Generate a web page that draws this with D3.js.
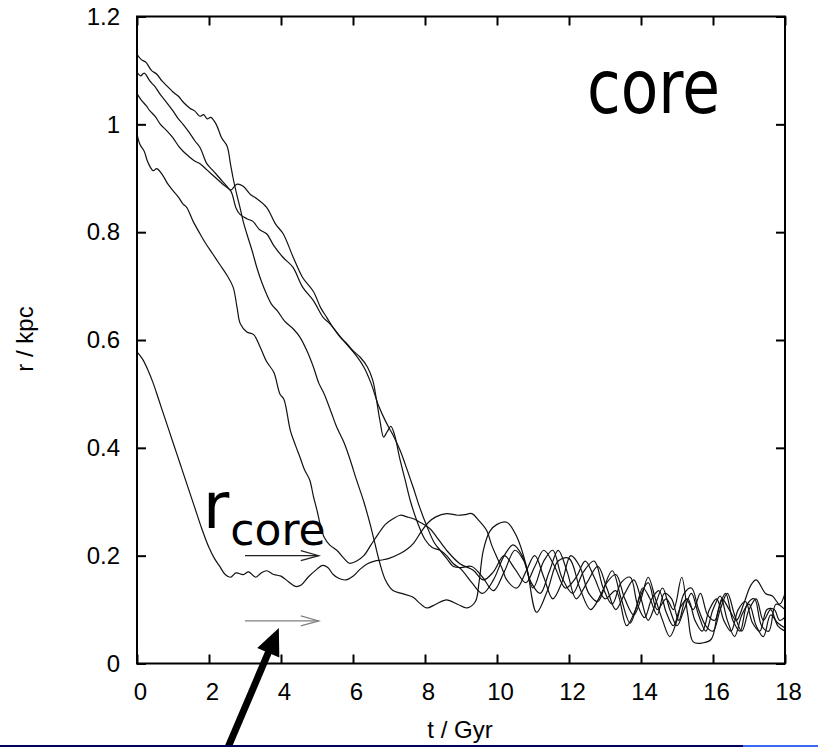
<!DOCTYPE html>
<html>
<head>
<meta charset="utf-8">
<script src="https://cdn.jsdelivr.net/npm/d3@7"></script>
<style>
  html, body { margin: 0; padding: 0; background: #fff; }
  svg { display: block; }
</style>
</head>
<body>
<svg id="chart" width="818" height="747"></svg>
<script>
// Orbital radius of five sinking clusters in a cored halo, r(t) in kpc.
const xTicks = [0, 2, 4, 6, 8, 10, 12, 14, 16, 18];
const yTicks = [0, 0.2, 0.4, 0.6, 0.8, 1, 1.2];
const yTickLabels = ["0", "0.2", "0.4", "0.6", "0.8", "1", "1.2"];

const runA = [[0,1.13],[0.12,1.12],[0.25,1.115],[0.4,1.1],[0.55,1.093],[0.7,1.08],[0.85,1.07],[1.0,1.06],[1.15,1.052],[1.3,1.04],[1.47,1.03],[1.6,1.025],[1.75,1.015],[1.85,1.018],[1.95,1.01],[2.05,1.013],[2.2,1.0],[2.35,0.975],[2.5,0.96],[2.6,0.925],[2.67,0.9],[2.77,0.87],[2.86,0.846],[2.95,0.82],[3.05,0.797],[3.2,0.765],[3.33,0.734],[3.45,0.71],[3.6,0.685],[3.75,0.665],[3.9,0.654],[4.1,0.635],[4.35,0.62],[4.53,0.605],[4.72,0.58],[4.9,0.55],[5.05,0.52],[5.2,0.5],[5.4,0.465],[5.55,0.438],[5.75,0.41],[5.9,0.382],[6.1,0.34],[6.3,0.3],[6.47,0.26],[6.6,0.225],[6.75,0.185],[6.9,0.155],[7.1,0.136],[7.35,0.13],[7.67,0.123],[7.85,0.112],[8.05,0.103],[8.3,0.11],[8.6,0.118],[8.9,0.11],[9.17,0.103],[9.4,0.115],[9.5,0.15],[9.62,0.21],[9.8,0.245],[10.0,0.258],[10.27,0.262],[10.55,0.235],[10.82,0.18],[11.1,0.095],[11.4,0.135],[11.7,0.19],[12.0,0.195],[12.3,0.14],[12.6,0.1],[12.9,0.13],[13.2,0.172],[13.45,0.12],[13.7,0.075],[13.95,0.12],[14.2,0.15],[14.45,0.1],[14.7,0.12],[14.9,0.1],[15.13,0.16],[15.3,0.09],[15.45,0.04],[15.7,0.038],[15.95,0.045],[16.15,0.1],[16.35,0.13],[16.55,0.08],[16.75,0.06],[16.95,0.11],[17.15,0.12],[17.35,0.07],[17.55,0.06],[17.75,0.11],[18.0,0.1]];

const runB = [[0,1.097],[0.1,1.09],[0.2,1.095],[0.36,1.08],[0.5,1.07],[0.65,1.055],[0.83,1.04],[1.0,1.025],[1.15,1.01],[1.28,1.0],[1.45,0.985],[1.6,0.97],[1.75,0.957],[1.94,0.927],[2.1,0.915],[2.3,0.9],[2.5,0.885],[2.6,0.878],[2.78,0.889],[2.95,0.885],[3.15,0.87],[3.33,0.862],[3.6,0.846],[3.85,0.815],[4.06,0.797],[4.33,0.755],[4.6,0.716],[4.9,0.69],[5.1,0.66],[5.27,0.642],[5.45,0.623],[5.65,0.605],[5.83,0.593],[6.0,0.58],[6.2,0.568],[6.4,0.55],[6.55,0.525],[6.65,0.49],[6.75,0.45],[6.85,0.42],[6.95,0.43],[7.05,0.44],[7.15,0.425],[7.3,0.38],[7.45,0.34],[7.6,0.3],[7.8,0.26],[8.0,0.23],[8.2,0.215],[8.42,0.21],[8.6,0.2],[8.79,0.185],[9.0,0.175],[9.3,0.15],[9.6,0.13],[9.9,0.155],[10.2,0.2],[10.45,0.22],[10.7,0.2],[10.95,0.15],[11.2,0.13],[11.45,0.17],[11.7,0.21],[11.95,0.17],[12.2,0.12],[12.5,0.15],[12.8,0.18],[13.05,0.14],[13.3,0.1],[13.55,0.13],[13.8,0.155],[14.0,0.12],[14.2,0.08],[14.4,0.11],[14.6,0.14],[14.8,0.1],[15.0,0.07],[15.2,0.1],[15.4,0.13],[15.6,0.09],[15.8,0.06],[16.0,0.1],[16.2,0.125],[16.4,0.08],[16.6,0.05],[16.8,0.09],[17.0,0.11],[17.2,0.07],[17.4,0.05],[17.6,0.09],[17.8,0.075],[18,0.066]];

const runC = [[0,1.057],[0.12,1.045],[0.25,1.035],[0.36,1.025],[0.5,1.015],[0.65,1.0],[0.83,0.988],[1.0,0.975],[1.15,0.96],[1.28,0.95],[1.45,0.94],[1.6,0.932],[1.75,0.927],[1.95,0.915],[2.2,0.9],[2.4,0.888],[2.6,0.877],[2.75,0.845],[2.86,0.833],[3.05,0.825],[3.22,0.82],[3.4,0.805],[3.6,0.797],[3.8,0.775],[4.06,0.753],[4.33,0.735],[4.6,0.698],[4.9,0.673],[5.17,0.642],[5.36,0.63],[5.6,0.61],[5.85,0.59],[6.1,0.57],[6.3,0.55],[6.5,0.52],[6.7,0.48],[6.9,0.45],[7.1,0.425],[7.31,0.395],[7.5,0.36],[7.68,0.325],[7.85,0.29],[8.05,0.255],[8.25,0.225],[8.42,0.21],[8.6,0.195],[8.79,0.18],[9.0,0.178],[9.3,0.18],[9.6,0.16],[9.9,0.135],[10.2,0.17],[10.5,0.21],[10.75,0.19],[11.0,0.14],[11.3,0.19],[11.55,0.21],[11.8,0.16],[12.1,0.13],[12.4,0.17],[12.7,0.19],[12.95,0.14],[13.2,0.11],[13.45,0.15],[13.7,0.16],[13.9,0.11],[14.1,0.085],[14.3,0.12],[14.5,0.135],[14.7,0.095],[14.9,0.07],[15.1,0.105],[15.3,0.12],[15.5,0.08],[15.7,0.06],[15.9,0.1],[16.1,0.12],[16.3,0.08],[16.5,0.06],[16.7,0.1],[16.9,0.115],[17.1,0.075],[17.3,0.06],[17.5,0.1],[17.7,0.1],[17.85,0.08],[18,0.086]];

const runD = [[0,0.982],[0.08,0.963],[0.2,0.95],[0.3,0.93],[0.45,0.914],[0.55,0.918],[0.72,0.905],[0.85,0.89],[1.0,0.877],[1.15,0.865],[1.28,0.852],[1.38,0.846],[1.56,0.82],[1.75,0.797],[1.9,0.78],[2.1,0.76],[2.3,0.74],[2.5,0.72],[2.67,0.698],[2.78,0.66],[2.87,0.63],[3.05,0.615],[3.24,0.61],[3.42,0.587],[3.6,0.56],[3.8,0.54],[3.97,0.5],[4.08,0.49],[4.26,0.432],[4.4,0.405],[4.53,0.382],[4.65,0.36],[4.8,0.34],[4.9,0.31],[5.0,0.284],[5.1,0.255],[5.2,0.234],[5.35,0.22],[5.55,0.21],[5.75,0.195],[5.9,0.186],[6.1,0.19],[6.3,0.2],[6.5,0.22],[6.7,0.24],[6.9,0.258],[7.1,0.268],[7.31,0.275],[7.5,0.272],[7.7,0.268],[7.86,0.262],[8.14,0.25],[8.32,0.235],[8.6,0.21],[8.97,0.185],[9.34,0.173],[9.62,0.155],[9.9,0.17],[10.2,0.2],[10.5,0.175],[10.8,0.15],[11.05,0.18],[11.3,0.21],[11.6,0.18],[11.9,0.14],[12.2,0.16],[12.45,0.19],[12.7,0.16],[13.0,0.12],[13.3,0.135],[13.6,0.07],[13.85,0.1],[14.05,0.14],[14.25,0.12],[14.45,0.09],[14.65,0.13],[14.85,0.12],[15.05,0.08],[15.25,0.12],[15.45,0.1],[15.65,0.13],[15.85,0.09],[16.05,0.08],[16.25,0.12],[16.45,0.1],[16.65,0.08],[16.85,0.11],[17.05,0.145],[17.2,0.155],[17.46,0.13],[17.65,0.125],[17.85,0.11],[18,0.13]];

const runE = [[0,0.578],[0.15,0.565],[0.3,0.545],[0.45,0.52],[0.6,0.49],[0.8,0.45],[1.0,0.41],[1.2,0.37],[1.4,0.33],[1.6,0.29],[1.8,0.25],[2.0,0.215],[2.15,0.195],[2.3,0.18],[2.45,0.165],[2.6,0.16],[2.75,0.168],[2.95,0.165],[3.1,0.17],[3.3,0.16],[3.45,0.168],[3.6,0.172],[3.8,0.165],[4.0,0.162],[4.2,0.152],[4.4,0.143],[4.55,0.145],[4.75,0.16],[5.0,0.175],[5.15,0.182],[5.3,0.178],[5.45,0.165],[5.6,0.158],[5.8,0.155],[6.0,0.162],[6.2,0.175],[6.4,0.185],[6.6,0.19],[6.8,0.192],[7.0,0.195],[7.31,0.204],[7.5,0.212],[7.68,0.223],[7.9,0.245],[8.1,0.262],[8.3,0.272],[8.6,0.278],[8.9,0.275],[9.1,0.276],[9.3,0.278],[9.5,0.265],[9.71,0.247],[9.85,0.22],[9.99,0.198],[10.15,0.175],[10.27,0.155],[10.55,0.14],[10.8,0.17],[11.05,0.2],[11.3,0.16],[11.55,0.12],[11.8,0.15],[12.05,0.2],[12.3,0.18],[12.55,0.13],[12.8,0.115],[13.05,0.15],[13.3,0.165],[13.55,0.12],[13.8,0.09],[14.0,0.12],[14.2,0.16],[14.4,0.12],[14.6,0.08],[14.8,0.05],[15.0,0.08],[15.2,0.13],[15.4,0.14],[15.6,0.1],[15.8,0.07],[16.0,0.06],[16.2,0.1],[16.4,0.13],[16.6,0.09],[16.8,0.06],[17.0,0.1],[17.2,0.12],[17.4,0.08],[17.6,0.1],[17.8,0.07],[18,0.06]];

const runs = [runA, runB, runC, runD, runE];

// core radius markers (t range, r level)
const coreArrows = [
  { t0: 3, t1: 5.05, r: 0.2, color: "#222" },
  { t0: 3, t1: 5.05, r: 0.079, color: "#808080" }
];

const svg = d3.select("#chart");
const W = 818, H = 747;
const plot = { left: 137, right: 785, top: 16.5, bottom: 663.5 };

const x = d3.scaleLinear().domain([0, 18]).range([plot.left, plot.right]);
const y = d3.scaleLinear().domain([0, 1.2]).range([plot.bottom, plot.top]);

svg.append("rect").attr("width", W).attr("height", H).attr("fill", "#fff");

// curves
const line = d3.line()
  .x(d => x(d[0]))
  .y(d => y(d[1]))
  .curve(d3.curveCatmullRom.alpha(0.5));

svg.append("g").selectAll("path")
  .data(runs)
  .join("path")
  .attr("d", line)
  .attr("fill", "none")
  .attr("stroke", "#111")
  .attr("stroke-width", 1.2)
  .attr("stroke-linejoin", "round");

// axes with inward ticks on all four sides
const tickLen = 9;
const fontTicks = "Liberation Sans, Arial, sans-serif";

const gBottom = svg.append("g")
  .attr("transform", `translate(0,${plot.bottom})`)
  .call(d3.axisBottom(x).tickValues(xTicks).tickSize(-tickLen).tickPadding(19).tickFormat(d3.format("d")));
gBottom.selectAll("text").attr("dx", 3);

const gLeft = svg.append("g")
  .attr("transform", `translate(${plot.left},0)`)
  .call(d3.axisLeft(y).tickValues(yTicks).tickSize(-tickLen).tickPadding(17)
    .tickFormat((d, i) => yTickLabels[i]));

const gTop = svg.append("g")
  .attr("transform", `translate(0,${plot.top})`)
  .call(d3.axisTop(x).tickValues(xTicks).tickSize(-tickLen).tickFormat(""));

const gRight = svg.append("g")
  .attr("transform", `translate(${plot.right},0)`)
  .call(d3.axisRight(y).tickValues(yTicks).tickSize(-tickLen).tickFormat(""));

[gBottom, gLeft, gTop, gRight].forEach(g => {
  g.select(".domain").remove();
  g.selectAll(".tick line").attr("stroke", "#000").attr("stroke-width", 2);
  g.selectAll("text")
    .attr("fill", "#000")
    .style("font-family", fontTicks)
    .style("font-size", "24px");
});

svg.append("rect")
  .attr("x", plot.left).attr("y", plot.top)
  .attr("width", plot.right - plot.left).attr("height", plot.bottom - plot.top)
  .attr("fill", "none").attr("stroke", "#000").attr("stroke-width", 2);

// axis titles
svg.append("text")
  .attr("x", 460).attr("y", 738)
  .attr("text-anchor", "middle")
  .style("font-family", fontTicks).style("font-size", "24px")
  .text("t / Gyr");

svg.append("text")
  .attr("transform", "translate(33,339) rotate(-90)")
  .attr("text-anchor", "middle")
  .style("font-family", fontTicks).style("font-size", "24px")
  .text("r / kpc");

// annotations
svg.append("text")
  .attr("x", 587).attr("y", 113)
  .attr("textLength", 133).attr("lengthAdjust", "spacingAndGlyphs")
  .style("font-family", "DejaVu Sans, sans-serif").style("font-size", "74px")
  .text("core");

const rLabel = svg.append("text")
  .attr("x", 203).attr("y", 528)
  .style("font-family", "DejaVu Sans, sans-serif");
rLabel.append("tspan").style("font-size", "64px").text("r");
rLabel.append("tspan").attr("dy", 17).attr("dx", 1).style("font-size", "44px").text("core");

coreArrows.forEach(a => {
  const x0 = x(a.t0), x1 = x(a.t1), yy = y(a.r);
  svg.append("line").attr("x1", x0).attr("x2", x1).attr("y1", yy).attr("y2", yy)
    .attr("stroke", a.color).attr("stroke-width", 1.2);
  svg.append("path")
    .attr("d", `M${x1 - 18},${yy - 5}L${x1},${yy}L${x1 - 18},${yy + 5}`)
    .attr("fill", "none").attr("stroke", a.color).attr("stroke-width", 1.2);
});

// pointer arrow toward the lower core marker
const tail = [x(2.5), y(-0.16)];
const tip = [x(3.94), y(0.066)];
const dx = tip[0] - tail[0], dy = tip[1] - tail[1];
const len = Math.hypot(dx, dy);
const ux = dx / len, uy = dy / len, px = -uy, py = ux;
const headLen = 27, headHalf = 12;
const base = [tip[0] - ux * headLen, tip[1] - uy * headLen];
svg.append("line")
  .attr("x1", tail[0] - ux * 10).attr("y1", tail[1] - uy * 10)
  .attr("x2", base[0] + ux * 2).attr("y2", base[1] + uy * 2)
  .attr("stroke", "#000").attr("stroke-width", 7);
svg.append("path")
  .attr("d", `M${tip[0]},${tip[1]}L${base[0] + px * headHalf},${base[1] + py * headHalf}L${base[0] - px * headHalf},${base[1] - py * headHalf}Z`)
  .attr("fill", "#000");

// slide rule at the bottom edge
svg.append("rect").attr("x", 0).attr("y", 745).attr("width", 743).attr("height", 2).attr("fill", "#00005a");
svg.append("rect").attr("x", 743).attr("y", 745).attr("width", W - 743).attr("height", 2).attr("fill", "#3a6af5");
</script>
</body>
</html>
